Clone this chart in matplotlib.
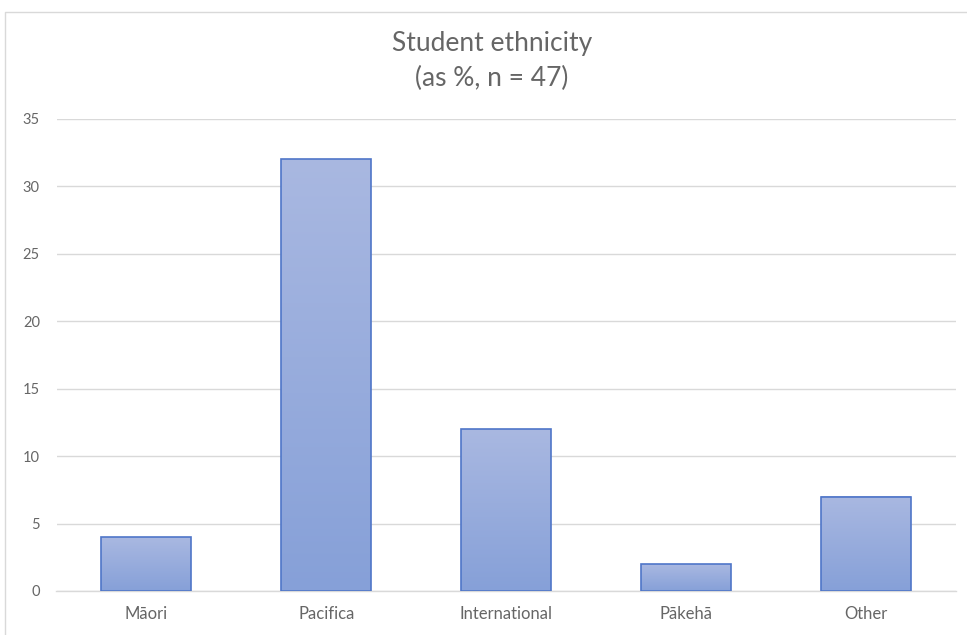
import numpy as np
import matplotlib
matplotlib.use("Agg")
import matplotlib.pyplot as plt
from matplotlib.colors import LinearSegmentedColormap
from matplotlib.lines import Line2D

categories = ["Māori", "Pacifica", "International", "Pākehā", "Other"]
values = [4, 32, 12, 2, 7]
y_ticks = [0, 5, 10, 15, 20, 25, 30, 35]

plt.rcParams["font.family"] = ["Lato", "DejaVu Sans"]

W, H = 967, 635
fig = plt.figure(figsize=(W / 100, H / 100), dpi=100)
fig.patch.set_facecolor("white")

# chart-area frame (top and left edges)
frame_x = [4.5 / W, 4.5 / W, 1.0]
frame_y = [0.0, 1 - 11.5 / H, 1 - 11.5 / H]
fig.add_artist(Line2D(frame_x, frame_y, transform=fig.transFigure,
                      color="#D9D9D9", linewidth=1.0))

ax = fig.add_axes([56.5 / W, 1 - 591 / H, (956 - 56.5) / W, (591 - 119) / H])

grad_cmap = LinearSegmentedColormap.from_list("barfill", ["#86A0D8", "#A9B8E1"])
grad = np.linspace(0, 1, 256).reshape(-1, 1)
width = 0.5
x = np.arange(len(categories))
for xi, v in zip(x, values):
    ax.imshow(grad, cmap=grad_cmap, origin="lower", aspect="auto",
              extent=[xi - width / 2, xi + width / 2, 0, v], zorder=2,
              interpolation="bilinear")
ax.bar(x, values, width=width, facecolor="none", edgecolor="#4F76C8",
       linewidth=1.2, zorder=3)
ax.set_xlim(-0.5, len(categories) - 0.5)
ax.set_ylim(0, 35)

ax.set_yticks(y_ticks)
ax.set_xticks(x)
ax.set_xticklabels(categories)
ax.tick_params(axis="both", length=0, colors="#666666")
ax.tick_params(axis="y", pad=12, labelsize=10.5)
ax.tick_params(axis="x", pad=11, labelsize=12)
ax.yaxis.grid(True, color="#D9D9D9", linewidth=1.0, zorder=0)
ax.set_axisbelow(True)
for side in ["left", "right", "top"]:
    ax.spines[side].set_visible(False)
ax.spines["bottom"].set_color("#D9D9D9")
ax.spines["bottom"].set_linewidth(1.0)

fig.text(492 / W, 1 - 44 / H, "Student ethnicity", ha="center", va="center",
         fontsize=19, color="#666666")
fig.text(492 / W, 1 - 78 / H, "(as %, n = 47)", ha="center", va="center",
         fontsize=19, color="#666666")

fig.savefig("out.png", dpi=100, facecolor="white")
